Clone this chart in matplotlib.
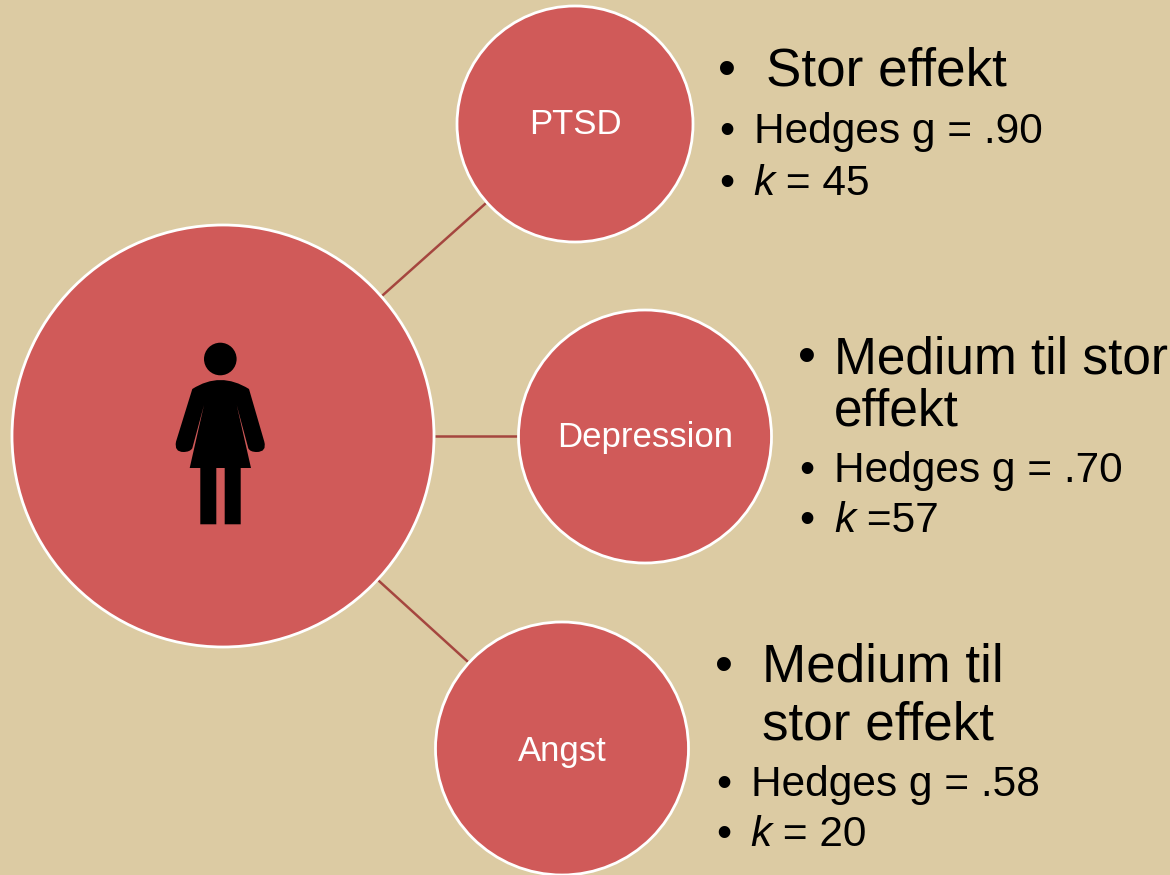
import matplotlib
matplotlib.use('Agg')
import matplotlib.pyplot as plt
from matplotlib.patches import Circle, PathPatch
from matplotlib.path import Path

plt.rcParams['font.family'] = ['Liberation Sans', 'DejaVu Sans']

BG = '#dccba3'
RED = '#d05a59'
LINE = '#a5463f'

# outcome circles
labels = ['PTSD', 'Depression', 'Angst']
centers = [(575, 124), (645, 436.5), (562, 748.5)]
radii = [118, 126.5, 126.5]
links = [((383, 295), (485, 204)), ((436, 436), (518, 436)), ((379, 581), (467, 661))]
label_y = [124, 438, 751]

# bullet text: (bullet x, text x, baseline y, text, size)
headlines = [
    (727, 766, 86, 'Stor effekt', 38.2),
    (807, 834, 373, 'Medium til stor', 37),
    (0, 834, 425, 'effekt', 37),
    (724, 762, 682, 'Medium til', 38.2),
    (0, 762, 739, 'stor effekt', 38.2),
]
details = [
    (727, 754, 143, 'Hedges g = .90'),
    (807, 834, 482, 'Hedges g = .70'),
    (724, 751, 796, 'Hedges g = .58'),
]
k_rows = [
    (727, 753, 195, ' = 45'),
    (807, 834, 532, ' =57'),
    (724, 750, 846, ' = 20'),
]

fig = plt.figure(figsize=(11.7, 8.75), dpi=100, facecolor=BG)
ax = fig.add_axes([0, 0, 1, 1])
ax.set_xlim(0, 1170)
ax.set_ylim(875, 0)
ax.axis('off')

# connector lines
for a, b in links:
    ax.plot([a[0], b[0]], [a[1], b[1]], color=LINE, lw=1.8, zorder=1)

# main circle and outcomes
ax.add_patch(Circle((223, 436), 211, fc=RED, ec='white', lw=2, zorder=2))
for name, c, r, ly in zip(labels, centers, radii, label_y):
    ax.add_patch(Circle(c, r, fc=RED, ec='white', lw=2, zorder=2))
    ax.text(c[0], ly, name, color='white', fontsize=25, ha='center', va='center', zorder=3)

# woman icon
ax.add_patch(Circle((220.3, 359), 16.3, fc='black', ec='none', zorder=3))
M, L, C = Path.MOVETO, Path.LINETO, Path.CURVE3
body = [
    (192.3, 389, M), (220.3, 371, C), (249, 389, C),
    (264.3, 441.7, L), (267, 452, C), (256.7, 452, C), (250, 452, C), (248.3, 448.3, C),
    (236.7, 405, L), (251, 468, L), (240.7, 468, L), (240.7, 524.3, L), (224.7, 524.3, L),
    (224.7, 468, L), (216.3, 468, L), (216.3, 524.3, L), (200.3, 524.3, L), (200.3, 468, L),
    (189.7, 468, L), (204, 405, L), (192.3, 448.3, L), (190, 452, C), (183.3, 452, C),
    (174, 452, C), (176, 441.7, C), (192.3, 389, L),
]
body_path = Path([p[:2] for p in body], [p[2] for p in body])
ax.add_patch(PathPatch(body_path, fc='black', ec='none', zorder=3))

# bullets and text
for bx, tx, y, s, size in headlines:
    if bx:
        ax.text(bx, y - 1, '•', color='black', fontsize=37, ha='center', va='baseline')
    ax.text(tx, y, s, color='black', fontsize=size, va='baseline')

for bx, tx, y, s in details:
    ax.text(bx, y, '•', color='black', fontsize=31, ha='center', va='baseline')
    ax.text(tx, y, s, color='black', fontsize=30.5, va='baseline')

for bx, tx, y, s in k_rows:
    ax.text(bx, y, '•', color='black', fontsize=31, ha='center', va='baseline')
    ax.text(tx, y, 'k', color='black', fontsize=30.5, style='italic', va='baseline')
    ax.text(tx + 21, y, s, color='black', fontsize=30.5, va='baseline')

fig.savefig('out.png', dpi=100, facecolor=BG)
